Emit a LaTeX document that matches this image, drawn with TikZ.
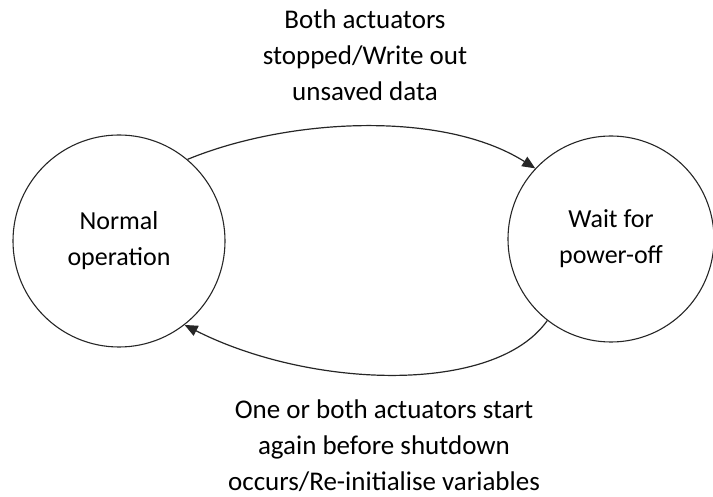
\documentclass[tikz,border=0pt]{standalone}
\usepackage{fontspec}
\setmainfont{Carlito}
\usetikzlibrary{arrows.meta}
\tikzset{
  state/.style={circle, draw=black!85, line width=1.1pt, minimum size=#1, inner sep=0pt, align=center},
  lbl/.style={align=center, inner sep=0pt, font=\fontsize{27}{36}\selectfont},
  conn/.style={draw=black!85, line width=1.2pt, -{Triangle[length=13pt,width=11pt]}}
}
\begin{document}
\begin{tikzpicture}[x=1pt,y=-1pt, font=\fontsize{26}{36}\selectfont]
\useasboundingbox (0,0) rectangle (713,497);
\node[state=212pt] (N) at (119,241) {Normal\\operation};
\node[state=206pt] (W) at (611,239) {Wait for\\power-off};
\node[lbl, anchor=base] (T) at (365,101) {Both actuators\\stopped/Write out\\unsaved data};
\node[lbl, anchor=base] (B) at (384,490) {One or both actuators start\\again before shutdown\\occurs/Re-initialise variables};
\draw[conn] (N.50) .. controls (288,118) and (443,110) .. (W.137);
\draw[conn] (W.232) .. controls (495,395) and (311,389) .. (N.-52);
\end{tikzpicture}
\end{document}
